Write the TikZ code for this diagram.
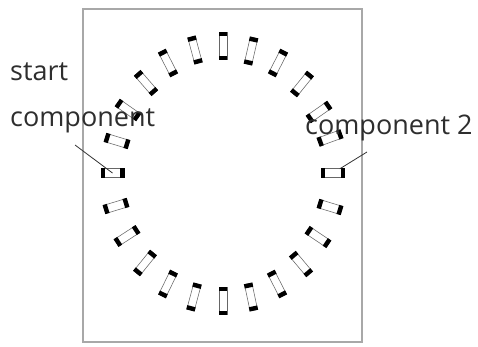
\documentclass[tikz,border=0pt]{standalone}
\usepackage{fontspec}
\setmainfont{Open Sans}
\definecolor{framegray}{HTML}{A8A8A8}
\definecolor{labelgray}{HTML}{2E2E2E}
\tikzset{
  x=1pt,y=-1pt,
  frame/.style={draw=framegray,line width=1.3pt},
  comp/.style={draw=black!60,line width=0.55pt,inner sep=0pt,outer sep=0pt,fill=white},
  pad/.style={fill=black,draw=none},
  lbl/.style={anchor=base west,inner sep=0pt,text=labelgray,font=\fontsize{27}{29}\selectfont},
  leader/.style={draw=black!80,line width=0.8pt},
}
\begin{document}
\begin{tikzpicture}
\useasboundingbox (0,0) rectangle (478,347);
\draw[frame] (83,9) rectangle (362,342);
\foreach \n/\cx/\cy/\a in {
 1/223/46/90, 2/195/50/105, 3/168/63/117, 4/146/83/131, 5/128/110/145, 6/117/141/163,
 7/112.5/173/180, 8/116/206/17, 9/127/236/33, 10/145/263/51, 11/168/284/64, 12/194/297/75,
 13/223/301/90, 14/251/297/102, 15/277/284/117, 16/301/264/130, 17/318/237/146, 18/330/207/163,
 19/333/173/180, 20/330/138/20, 21/319/112/35, 22/302/84/51, 23/278/63/63, 24/251/51/77}{
  \pgfmathsetmacro\hl{12+2*abs(sin(\a))}
  \pgfmathsetmacro\hw{4.9-0.6*abs(sin(\a))}
  \pgfmathsetmacro\inl{\hl-4.4}
  \node[comp,rotate=\a,minimum width=2*\hl pt-1pt,minimum height=2*\hw pt-1pt] (c\n) at (\cx,\cy) {};
  \begin{scope}[shift={(\cx,\cy)},rotate=\a]
    \fill[pad] (-\hl,-\hw) rectangle (-\inl,\hw);
    \fill[pad] (\inl,-\hw) rectangle (\hl,\hw);
  \end{scope}
}
\node[lbl] (t1) at (10,80.5) {start};
\node[lbl] (t2) at (10,126.5) {component};
\node[lbl] (t3) at (305,134.5) {component 2};
\coordinate (l1) at (75,145);
\coordinate (l2) at (367,152);
\draw[leader] (l1) -- (c7.center);
\draw[leader,shorten >=8pt] (l2) -- (c19.center);
\end{tikzpicture}
\end{document}
